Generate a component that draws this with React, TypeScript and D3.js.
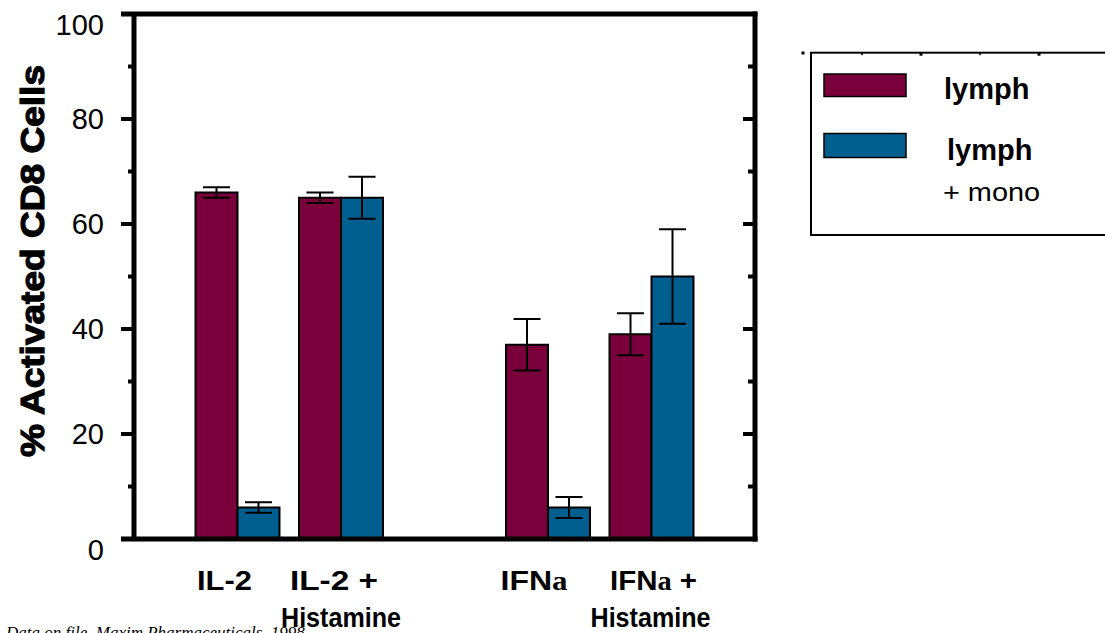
import React from "react";
import * as d3 from "d3";

// ---- data ----
const categories = ["IL-2", "IL-2 +|Histamine", "IFNa", "IFNa +|Histamine"];
const categoryPositions = [1, 2, 4, 5];
const lymph = [66, 65, 37, 39];
const lymphErr = [1, 1, 4.9, 4];
const lymphMono = [6, 65, 6, 50];
const lymphMonoErr = [1, 4, 2, 9];
const yTicks = [0, 20, 40, 60, 80, 100];
const yMinorTicks = [10, 30, 50, 70, 90];
const legendLabels = ["lymph", "lymph"];
const legendSub = "+ mono";
const yLabel = "% Activated CD8 Cells";
const footnote = "Data on file, Maxim Pharmaceuticals, 1998";

// ---- layout ----
const W = 1105;
const H = 633;
const MAROON = "#7A003C";
const BLUE = "#005F8E";
const SANS = "'Liberation Sans', Arial, sans-serif";
const SERIF = "'Liberation Serif', 'Times New Roman', serif";
const barW = 42;
const capW = 27;
const line1Offsets = [-13, -7, -14, 2];
const line2Offsets = [0, 0, 0, -1];
const line1Widths = [55, 88, 67, 87];
const line2Width = 120;

const x = d3.scaleLinear().domain([0, 6]).range([134, 755]);
const y = d3.scaleLinear().domain([0, 100]).range([539, 14]);

function LabelText({ text, cx, baseline, width }: { text: string; cx: number; baseline: number; width: number }) {
  const m = text.match(/^(IFN)(a)(.*)$/);
  if (m) {
    return (
      <text x={cx} y={baseline} textAnchor="middle" fontFamily={SANS} fontWeight="bold" fontSize={28}
        textLength={width} lengthAdjust="spacingAndGlyphs">
        {m[1]}
        <tspan fontFamily={SERIF} fontSize={27}>{m[2]}</tspan>
        {m[3]}
      </text>
    );
  }
  return (
    <text x={cx} y={baseline} textAnchor="middle" fontFamily={SANS} fontWeight="bold" fontSize={28}
      textLength={width} lengthAdjust="spacingAndGlyphs">
      {text}
    </text>
  );
}

export default function App() {
  const x0 = x(0) - 13;
  const xR = x(6);
  const series = [
    { vals: lymph, errs: lymphErr, color: MAROON, shift: -barW },
    { vals: lymphMono, errs: lymphMonoErr, color: BLUE, shift: 0 },
  ];
  return (
    <svg width={W} height={H} style={{ position: "absolute", left: 0, top: 0, background: "#fff" }}>
      {/* bars */}
      {series.map((s, si) =>
        s.vals.map((v, i) => {
          const cx = x(categoryPositions[i]);
          return (
            <rect key={`b${si}-${i}`} x={cx + s.shift} y={y(v)} width={barW} height={y(0) - y(v)}
              fill={s.color} stroke="#000" strokeWidth={2} />
          );
        })
      )}
      {/* error bars */}
      {series.map((s, si) =>
        s.vals.map((v, i) => {
          const ex = x(categoryPositions[i]) + s.shift + barW / 2;
          const hi = y(v + s.errs[i]);
          const lo = y(v - s.errs[i]);
          return (
            <g key={`e${si}-${i}`} stroke="#000" strokeWidth={2}>
              <line x1={ex} x2={ex} y1={hi} y2={lo} />
              <line x1={ex - capW / 2} x2={ex + capW / 2} y1={hi} y2={hi} />
              <line x1={ex - capW / 2} x2={ex + capW / 2} y1={lo} y2={lo} />
            </g>
          );
        })
      )}
      {/* frame */}
      <g stroke="#000" strokeWidth={5} fill="none">
        <line x1={x0} x2={xR + 2.5} y1={y(100)} y2={y(100)} />
        <line x1={x0} x2={xR + 2.5} y1={y(0)} y2={y(0)} />
        <line x1={x(0)} x2={x(0)} y1={y(100)} y2={y(0)} />
        <line x1={xR} x2={xR} y1={y(100) - 2.5} y2={y(0) + 2.5} />
      </g>
      {/* ticks */}
      <g stroke="#000" strokeWidth={4}>
        {yTicks.map((t) => (
          <line key={`lt${t}`} x1={x(0) - 13} x2={x(0)} y1={y(t)} y2={y(t)} />
        ))}
        {yMinorTicks.map((t) => (
          <line key={`lm${t}`} x1={x(0) - 6} x2={x(0)} y1={y(t)} y2={y(t)} />
        ))}
        {yTicks.map((t) => (
          <line key={`rt${t}`} x1={xR - 12} x2={xR} y1={y(t)} y2={y(t)} />
        ))}
        {yMinorTicks.map((t) => (
          <line key={`rm${t}`} x1={xR - 7} x2={xR} y1={y(t)} y2={y(t)} />
        ))}
      </g>
      {/* y tick labels */}
      {yTicks.map((t) => (
        <text key={`yl${t}`} x={104} y={y(t) + (t === 0 || t === 100 ? 11 : 0)} dy="0.36em" textAnchor="end"
          fontFamily={SANS} fontSize={29}>
          {t}
        </text>
      ))}
      {/* y axis title */}
      <text transform={`translate(44, 261) rotate(-90)`} textAnchor="middle" fontFamily={SANS}
        fontWeight="bold" fontSize={33} stroke="#000" strokeWidth={1.2} textLength={392} lengthAdjust="spacingAndGlyphs">
        {yLabel}
      </text>
      {/* category labels */}
      {categories.map((c, i) => {
        const [l1, l2] = c.split("|");
        const cx = x(categoryPositions[i]);
        return (
          <g key={`c${i}`}>
            <LabelText text={l1} cx={cx + line1Offsets[i]} baseline={590} width={line1Widths[i]} />
            {l2 && <LabelText text={l2} cx={cx + line2Offsets[i]} baseline={627} width={line2Width} />}
          </g>
        );
      })}
      {/* legend */}
      <g>
        <rect x={811} y={52.7} width={320} height={182.3} fill="none" stroke="#000" strokeWidth={2} />
        <rect x={801.5} y={51.5} width={3} height={3} fill="#000" />
        {[862, 921, 980, 1039].map((tx, i) => (
          <rect key={`lt${tx}`} x={tx - (i % 2 ? 1.5 : 0.75)} y={52.7} width={i % 2 ? 3 : 1.5} height={i % 2 ? 3 : 2.5} fill="#000" />
        ))}
        {[MAROON, BLUE].map((col, i) => (
          <rect key={`sw${i}`} x={824} y={i === 0 ? 74 : 133.5} width={82} height={i === 0 ? 22.5 : 24}
            fill={col} stroke="#000" strokeWidth={1.5} />
        ))}
        <text x={944} y={99} fontFamily={SANS} fontWeight="bold" fontSize={29}>{legendLabels[0]}</text>
        <text x={947} y={160} fontFamily={SANS} fontWeight="bold" fontSize={29}>{legendLabels[1]}</text>
        <text x={943} y={201} fontFamily={SANS} fontSize={26} textLength={97} lengthAdjust="spacingAndGlyphs">{legendSub}</text>
      </g>
      {/* footnote (mostly cropped at the bottom edge) */}
      <text x={6} y={638} fontFamily={SERIF} fontStyle="italic" fontSize={17}>{footnote}</text>
    </svg>
  );
}
